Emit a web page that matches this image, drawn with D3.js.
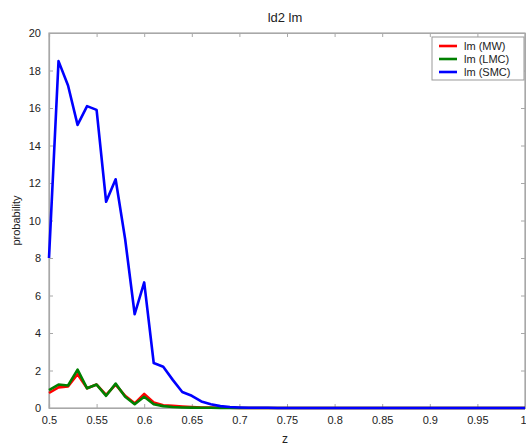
<!DOCTYPE html>
<html><head><meta charset="utf-8">
<script src="https://cdn.jsdelivr.net/npm/d3@7"></script>
<style>body{margin:0;background:#fff;} svg{display:block;}</style>
</head><body>
<svg id="c" width="526" height="445"></svg>
<script>
const zValues = d3.range(0.5, 1.0001, 0.01).map(v => +v.toFixed(2));
const mwValues = [0.8,1.1,1.15,1.8,1.05,1.25,0.7,1.25,0.65,0.25,0.75,0.3,0.15,0.12,0.08,0.05,0.03,0.02,0.01,0.01,0,0,0,0,0,0,0,0,0,0,0,0,0,0,0,0,0,0,0,0,0,0,0,0,0,0,0,0,0,0,0];
const lmcValues = [0.95,1.25,1.2,2.05,1.05,1.25,0.65,1.3,0.6,0.2,0.6,0.2,0.1,0.05,0.03,0.02,0.01,0.01,0,0,0,0,0,0,0,0,0,0,0,0,0,0,0,0,0,0,0,0,0,0,0,0,0,0,0,0,0,0,0,0,0];
const smcValues = [8,18.5,17.2,15.1,16.1,15.9,11.0,12.2,9.0,5.0,6.7,2.4,2.2,1.5,0.85,0.65,0.35,0.2,0.1,0.05,0.03,0.01,0.01,0.01,0,0,0,0,0,0,0,0,0,0,0,0,0,0,0,0,0,0,0,0,0,0,0,0,0,0,0];
const seriesNames = ["lm (MW)","lm (LMC)","lm (SMC)"];
const seriesColors = ["#ff0000","#008000","#0000ff"];
const xTicks = [0.5,0.55,0.6,0.65,0.7,0.75,0.8,0.85,0.9,0.95,1];
const yTicks = [0,2,4,6,8,10,12,14,16,18,20];

const svg = d3.select("#c");
const L=49, R=525, T=33, B=408;
const x = d3.scaleLinear().domain([0.5,1]).range([L,R]);
const y = d3.scaleLinear().domain([0,20]).range([B,T]);
const font = "Arial, 'Liberation Sans', sans-serif";
const axisColor = "#a8a8a8";

svg.append("rect").attr("x",L).attr("y",T).attr("width",R-L).attr("height",B-T)
  .attr("fill","none").attr("stroke",axisColor).attr("stroke-width",1.2);

const xb = svg.append("g").attr("transform",`translate(0,${B})`)
  .call(d3.axisBottom(x).tickValues(xTicks).tickSize(-4).tickPadding(8).tickFormat(d=>String(d)));
const xt = svg.append("g").attr("transform",`translate(0,${T})`)
  .call(d3.axisTop(x).tickValues(xTicks).tickSize(-4).tickFormat(""));
const yl = svg.append("g").attr("transform",`translate(${L},0)`)
  .call(d3.axisLeft(y).tickValues(yTicks).tickSize(-4).tickPadding(8));
const yr = svg.append("g").attr("transform",`translate(${R},0)`)
  .call(d3.axisRight(y).tickValues(yTicks).tickSize(-4).tickFormat(""));
[xb,xt,yl,yr].forEach(g=>{
  g.select(".domain").attr("stroke",axisColor).attr("stroke-width",1.2);
  g.selectAll(".tick line").attr("stroke",axisColor);
  g.selectAll("text").attr("fill","#222").style("font-family",font).style("font-size","11px");
});
xb.selectAll(".tick text").filter(d=>d===1).attr("text-anchor","end").attr("dx","1");

const line = d3.line().x((d,i)=>x(zValues[i])).y(d=>y(d));
[mwValues,lmcValues,smcValues].forEach((vals,k)=>{
  svg.append("path").datum(vals).attr("d",line).attr("fill","none")
    .attr("stroke",seriesColors[k]).attr("stroke-width",2.6).attr("stroke-linejoin","round");
});

svg.append("text").attr("x",285).attr("y",22).attr("text-anchor","middle")
  .style("font-family",font).style("font-size","13px").attr("fill","#222").text("ld2 lm");
svg.append("text").attr("transform",`translate(20,${(T+B)/2}) rotate(-90)`).attr("text-anchor","middle")
  .style("font-family",font).style("font-size","11px").attr("fill","#222").text("probability");
svg.append("text").attr("x",285).attr("y",443).attr("text-anchor","middle")
  .style("font-family",font).style("font-size","12px").attr("fill","#222").text("z");

const lg = svg.append("g").attr("transform","translate(432,37)");
lg.append("rect").attr("width",92).attr("height",43).attr("fill","#fff").attr("stroke","#999");
seriesNames.forEach((n,i)=>{
  const yy = 9+i*13;
  lg.append("line").attr("x1",7).attr("x2",25).attr("y1",yy).attr("y2",yy)
    .attr("stroke",seriesColors[i]).attr("stroke-width",2.6);
  lg.append("text").attr("x",32).attr("y",yy+4).style("font-family",font).style("font-size","11px")
    .attr("fill","#222").text(n);
});
</script>
</body></html>
